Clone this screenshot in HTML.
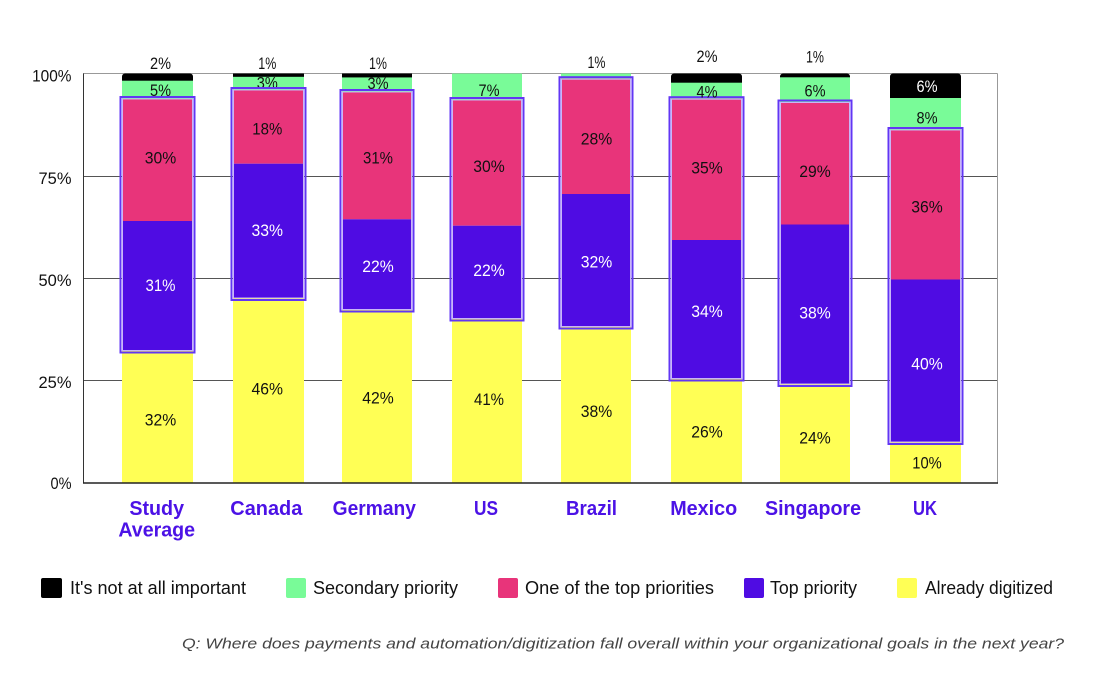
<!DOCTYPE html>
<html>
<head>
<meta charset="utf-8">
<style>
  html,body{margin:0;padding:0;background:#fff;}
  svg{display:block;}
  .v{font-family:"Liberation Sans",sans-serif;font-size:17px;text-anchor:middle;fill:#111;}
  .w{fill:#fff;}
  .ax{font-family:"Liberation Sans",sans-serif;font-size:17px;text-anchor:end;fill:#111;}
  .cat{font-family:"Liberation Sans",sans-serif;font-size:20px;font-weight:bold;text-anchor:middle;fill:#4c12e6;}
  .lg{font-family:"Liberation Sans",sans-serif;font-size:18px;fill:#111;}
  .fn{font-family:"Liberation Sans",sans-serif;font-size:15px;font-style:italic;fill:#444;}
</style>
</head>
<body>
<svg width="1116" height="684" viewBox="0 0 1116 684" xmlns="http://www.w3.org/2000/svg">
  <rect width="1116" height="684" fill="#fff"/>

  <!-- gridlines & frame -->
  <line x1="83" y1="176.5" x2="997.5" y2="176.5" stroke="#555" stroke-width="1"/>
  <line x1="83" y1="278.5" x2="997.5" y2="278.5" stroke="#555" stroke-width="1"/>
  <line x1="83" y1="380.5" x2="997.5" y2="380.5" stroke="#555" stroke-width="1"/>
  <line x1="83" y1="73.5" x2="997.5" y2="73.5" stroke="#999" stroke-width="1"/>
  <line x1="997.5" y1="73.5" x2="997.5" y2="483" stroke="#999" stroke-width="1"/>

  <!-- Study Average x0=122 -->
  <rect x="122" y="73.5" width="71" height="10" rx="3" fill="#000"/>
  <rect x="122" y="80.7" width="71" height="17.8" fill="#79fb98"/>
  <rect x="122" y="98.5" width="71" height="122.5" fill="#e8347a"/>
  <rect x="122" y="221" width="71" height="130" fill="#4f0ce3"/>
  <rect x="122" y="351" width="71" height="132" fill="#ffff55"/>

  <!-- Canada x0=233 -->
  <rect x="233" y="73.5" width="71" height="7" rx="3" fill="#000"/>
  <rect x="233" y="76.7" width="71" height="12.8" fill="#79fb98"/>
  <text class="v" x="267.3" y="88.7" textLength="21" lengthAdjust="spacingAndGlyphs">3%</text>
  <rect x="233" y="73.5" width="71" height="3.2" fill="#000"/>
  <rect x="233" y="89.5" width="71" height="74.2" fill="#e8347a"/>
  <rect x="233" y="163.7" width="71" height="134.8" fill="#4f0ce3"/>
  <rect x="233" y="298.5" width="71" height="184.5" fill="#ffff55"/>

  <!-- Germany x0=342 -->
  <rect x="342" y="73.5" width="70" height="7" rx="3" fill="#000"/>
  <rect x="342" y="77.3" width="70" height="14.2" fill="#79fb98"/>
  <text class="v" x="378" y="89" textLength="21" lengthAdjust="spacingAndGlyphs">3%</text>
  <rect x="342" y="73.5" width="70" height="3.8" fill="#000"/>
  <rect x="342" y="91.5" width="70" height="127.8" fill="#e8347a"/>
  <rect x="342" y="219.3" width="70" height="90.7" fill="#4f0ce3"/>
  <rect x="342" y="310" width="70" height="173" fill="#ffff55"/>

  <!-- US x0=452 -->
  <rect x="452" y="73.5" width="70" height="26" fill="#79fb98"/>
  <rect x="452" y="99.5" width="70" height="126.2" fill="#e8347a"/>
  <rect x="452" y="225.7" width="70" height="93.3" fill="#4f0ce3"/>
  <rect x="452" y="319" width="70" height="164" fill="#ffff55"/>

  <!-- Brazil x0=561 -->
  <rect x="561" y="73.5" width="70" height="5.2" fill="#79fb98"/>
  <rect x="561" y="78.7" width="70" height="115.3" fill="#e8347a"/>
  <rect x="561" y="194" width="70" height="133" fill="#4f0ce3"/>
  <rect x="561" y="327" width="70" height="156" fill="#ffff55"/>

  <!-- Mexico x0=671 -->
  <rect x="671" y="73.5" width="71" height="12" rx="3" fill="#000"/>
  <rect x="671" y="82.7" width="71" height="16" fill="#79fb98"/>
  <rect x="671" y="98.7" width="71" height="141.3" fill="#e8347a"/>
  <rect x="671" y="240" width="71" height="139" fill="#4f0ce3"/>
  <rect x="671" y="379" width="71" height="104" fill="#ffff55"/>

  <!-- Singapore x0=780 -->
  <rect x="780" y="73.5" width="70" height="7" rx="3" fill="#000"/>
  <rect x="780" y="77.3" width="70" height="24.7" fill="#79fb98"/>
  <rect x="780" y="102" width="70" height="122.5" fill="#e8347a"/>
  <rect x="780" y="224.5" width="70" height="160" fill="#4f0ce3"/>
  <rect x="780" y="384.5" width="70" height="98.5" fill="#ffff55"/>

  <!-- UK x0=890 -->
  <rect x="890" y="73.5" width="71" height="28" rx="3" fill="#000"/>
  <rect x="890" y="98" width="71" height="31.5" fill="#79fb98"/>
  <rect x="890" y="129.5" width="71" height="150" fill="#e8347a"/>
  <rect x="890" y="279.5" width="71" height="163" fill="#4f0ce3"/>
  <rect x="890" y="442.5" width="71" height="40.5" fill="#ffff55"/>

  <!-- axes -->
  <line x1="83.5" y1="73.5" x2="83.5" y2="483.5" stroke="#333" stroke-width="1"/>
  <line x1="83" y1="483" x2="998" y2="483" stroke="#222" stroke-width="1.6"/>

  <!-- highlight boxes -->
  <g fill="none">
    <rect x="120.5" y="97" width="74" height="255.5" stroke="#6236f4" stroke-width="2"/>
    <rect x="122.5" y="99" width="70" height="251.5" stroke="#c9b6f7" stroke-width="1"/>

    <rect x="231.5" y="88" width="74" height="212" stroke="#6236f4" stroke-width="2"/>
    <rect x="233.5" y="90" width="70" height="208" stroke="#c9b6f7" stroke-width="1"/>

    <rect x="340.5" y="90" width="73" height="221.5" stroke="#6236f4" stroke-width="2"/>
    <rect x="342.5" y="92" width="69" height="217.5" stroke="#c9b6f7" stroke-width="1"/>

    <rect x="450.5" y="98" width="73" height="222.5" stroke="#6236f4" stroke-width="2"/>
    <rect x="452.5" y="100" width="69" height="218.5" stroke="#c9b6f7" stroke-width="1"/>

    <rect x="559.5" y="77.2" width="73" height="251.3" stroke="#6236f4" stroke-width="2"/>
    <rect x="561.5" y="79.2" width="69" height="247.3" stroke="#c9b6f7" stroke-width="1"/>

    <rect x="669.5" y="97.2" width="74" height="283.3" stroke="#6236f4" stroke-width="2"/>
    <rect x="671.5" y="99.2" width="70" height="279.3" stroke="#c9b6f7" stroke-width="1"/>

    <rect x="778.5" y="100.5" width="73" height="285.5" stroke="#6236f4" stroke-width="2"/>
    <rect x="780.5" y="102.5" width="69" height="281.5" stroke="#c9b6f7" stroke-width="1"/>

    <rect x="888.5" y="128" width="74" height="316" stroke="#6236f4" stroke-width="2"/>
    <rect x="890.5" y="130" width="70" height="312" stroke="#c9b6f7" stroke-width="1"/>
  </g>

  <!-- value labels -->
  <!-- Study -->
  <text class="v" x="160.5" y="69" textLength="21" lengthAdjust="spacingAndGlyphs">2%</text>
  <text class="v" x="160.5" y="96" textLength="21" lengthAdjust="spacingAndGlyphs">5%</text>
  <text class="v" x="160.5" y="163.3" textLength="31.5" lengthAdjust="spacingAndGlyphs">30%</text>
  <text class="v w" x="160.5" y="291" textLength="30" lengthAdjust="spacingAndGlyphs">31%</text>
  <text class="v" x="160.5" y="425.3" textLength="31.5" lengthAdjust="spacingAndGlyphs">32%</text>
  <!-- Canada -->
  <text class="v" x="267.3" y="69" textLength="18" lengthAdjust="spacingAndGlyphs">1%</text>
  <text class="v" x="267.3" y="134.3" textLength="30" lengthAdjust="spacingAndGlyphs">18%</text>
  <text class="v w" x="267.3" y="236" textLength="31.5" lengthAdjust="spacingAndGlyphs">33%</text>
  <text class="v" x="267.3" y="394.3" textLength="31.5" lengthAdjust="spacingAndGlyphs">46%</text>
  <!-- Germany -->
  <text class="v" x="378" y="69" textLength="18" lengthAdjust="spacingAndGlyphs">1%</text>
  <text class="v" x="378" y="163.3" textLength="30" lengthAdjust="spacingAndGlyphs">31%</text>
  <text class="v w" x="378" y="272" textLength="31.5" lengthAdjust="spacingAndGlyphs">22%</text>
  <text class="v" x="378" y="403.3" textLength="31.5" lengthAdjust="spacingAndGlyphs">42%</text>
  <!-- US -->
  <text class="v" x="489" y="96" textLength="21" lengthAdjust="spacingAndGlyphs">7%</text>
  <text class="v" x="489" y="172" textLength="31.5" lengthAdjust="spacingAndGlyphs">30%</text>
  <text class="v w" x="489" y="276" textLength="31.5" lengthAdjust="spacingAndGlyphs">22%</text>
  <text class="v" x="489" y="405" textLength="30" lengthAdjust="spacingAndGlyphs">41%</text>
  <!-- Brazil -->
  <text class="v" x="596.5" y="68" textLength="18" lengthAdjust="spacingAndGlyphs">1%</text>
  <text class="v" x="596.5" y="144.3" textLength="31.5" lengthAdjust="spacingAndGlyphs">28%</text>
  <text class="v w" x="596.5" y="267.7" textLength="31.5" lengthAdjust="spacingAndGlyphs">32%</text>
  <text class="v" x="596.5" y="417" textLength="31.5" lengthAdjust="spacingAndGlyphs">38%</text>
  <!-- Mexico -->
  <text class="v" x="707" y="62" textLength="21" lengthAdjust="spacingAndGlyphs">2%</text>
  <text class="v" x="707" y="97.7" textLength="21" lengthAdjust="spacingAndGlyphs">4%</text>
  <text class="v" x="707" y="173.7" textLength="31.5" lengthAdjust="spacingAndGlyphs">35%</text>
  <text class="v w" x="707" y="317" textLength="31.5" lengthAdjust="spacingAndGlyphs">34%</text>
  <text class="v" x="707" y="437.7" textLength="31.5" lengthAdjust="spacingAndGlyphs">26%</text>
  <!-- Singapore -->
  <text class="v" x="815" y="62.7" textLength="18" lengthAdjust="spacingAndGlyphs">1%</text>
  <text class="v" x="815" y="96.7" textLength="21" lengthAdjust="spacingAndGlyphs">6%</text>
  <text class="v" x="815" y="177" textLength="31.5" lengthAdjust="spacingAndGlyphs">29%</text>
  <text class="v w" x="815" y="318.7" textLength="31.5" lengthAdjust="spacingAndGlyphs">38%</text>
  <text class="v" x="815" y="443.3" textLength="31.5" lengthAdjust="spacingAndGlyphs">24%</text>
  <!-- UK -->
  <text class="v w" x="927" y="92" textLength="21" lengthAdjust="spacingAndGlyphs">6%</text>
  <text class="v" x="927" y="123.7" textLength="21" lengthAdjust="spacingAndGlyphs">8%</text>
  <text class="v" x="927" y="212.7" textLength="31.5" lengthAdjust="spacingAndGlyphs">36%</text>
  <text class="v w" x="927" y="369.3" textLength="31.5" lengthAdjust="spacingAndGlyphs">40%</text>
  <text class="v" x="927" y="468.3" textLength="29.5" lengthAdjust="spacingAndGlyphs">10%</text>

  <!-- y axis labels -->
  <text class="ax" x="71.5" y="81.7" textLength="39.4" lengthAdjust="spacingAndGlyphs">100%</text>
  <text class="ax" x="71.5" y="184" textLength="33" lengthAdjust="spacingAndGlyphs">75%</text>
  <text class="ax" x="71.5" y="286" textLength="33" lengthAdjust="spacingAndGlyphs">50%</text>
  <text class="ax" x="71.5" y="388" textLength="33" lengthAdjust="spacingAndGlyphs">25%</text>
  <text class="ax" x="71.5" y="489" textLength="21" lengthAdjust="spacingAndGlyphs">0%</text>

  <!-- category labels -->
  <text class="cat" x="156.7" y="515" textLength="54.7" lengthAdjust="spacingAndGlyphs">Study</text>
  <text class="cat" x="156.7" y="536.7" textLength="76.7" lengthAdjust="spacingAndGlyphs">Average</text>
  <text class="cat" x="266.3" y="515" textLength="72" lengthAdjust="spacingAndGlyphs">Canada</text>
  <text class="cat" x="374.3" y="515" textLength="83.3" lengthAdjust="spacingAndGlyphs">Germany</text>
  <text class="cat" x="486" y="515" textLength="24" lengthAdjust="spacingAndGlyphs">US</text>
  <text class="cat" x="591.5" y="515" textLength="51" lengthAdjust="spacingAndGlyphs">Brazil</text>
  <text class="cat" x="703.7" y="515" textLength="67" lengthAdjust="spacingAndGlyphs">Mexico</text>
  <text class="cat" x="813" y="515" textLength="96" lengthAdjust="spacingAndGlyphs">Singapore</text>
  <text class="cat" x="925" y="515" textLength="24" lengthAdjust="spacingAndGlyphs">UK</text>

  <!-- legend -->
  <rect x="41" y="578" width="21" height="20" rx="2" fill="#000"/>
  <text class="lg" x="70" y="594" textLength="176" lengthAdjust="spacingAndGlyphs">It's not at all important</text>
  <rect x="286" y="578" width="20" height="20" rx="2" fill="#79fb98"/>
  <text class="lg" x="313" y="594" textLength="145" lengthAdjust="spacingAndGlyphs">Secondary priority</text>
  <rect x="498" y="578" width="20" height="20" rx="2" fill="#e8347a"/>
  <text class="lg" x="525" y="594" textLength="189" lengthAdjust="spacingAndGlyphs">One of the top priorities</text>
  <rect x="744" y="578" width="20" height="20" rx="2" fill="#4f0ce3"/>
  <text class="lg" x="770" y="594" textLength="87" lengthAdjust="spacingAndGlyphs">Top priority</text>
  <rect x="897" y="578" width="20" height="20" rx="2" fill="#ffff55"/>
  <text class="lg" x="925" y="594" textLength="128" lengthAdjust="spacingAndGlyphs">Already digitized</text>

  <!-- footnote -->
  <text class="fn" x="182" y="648.5" textLength="882" lengthAdjust="spacingAndGlyphs">Q: Where does payments and automation/digitization fall overall within your organizational goals in the next year?</text>
</svg>
</body>
</html>
